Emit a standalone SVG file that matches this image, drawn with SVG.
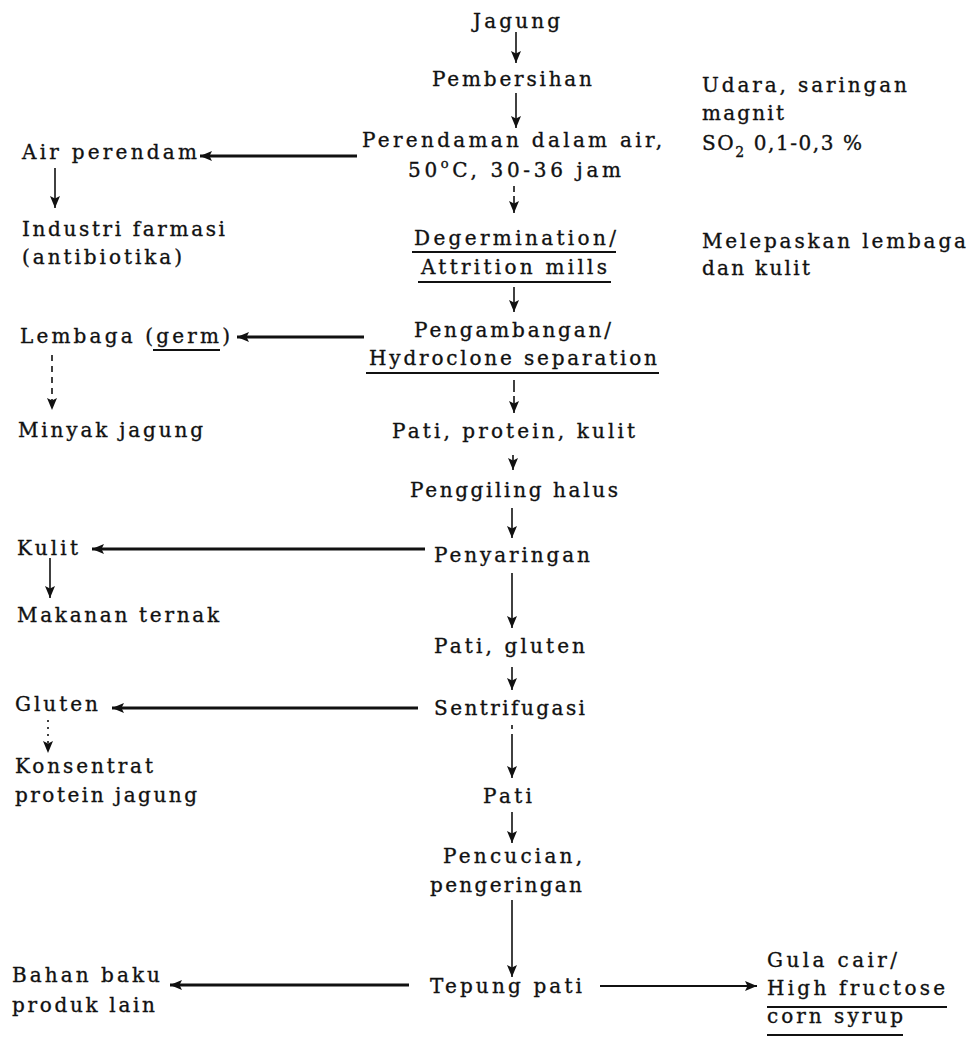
<svg xmlns="http://www.w3.org/2000/svg" width="971" height="1038" viewBox="0 0 971 1038">
<style>
text{font-family:"DejaVu Serif","Liberation Serif",serif;font-size:20px;fill:#111;stroke:#111;stroke-width:0.35}
.v{stroke:#111;stroke-width:1.6;fill:none}
.h{stroke:#111;stroke-width:3;fill:none}
.r{stroke:#111;stroke-width:2;fill:none}
.u{stroke:#111;stroke-width:1.8}
</style>
<defs>
<marker id="ah" markerUnits="userSpaceOnUse" markerWidth="13" markerHeight="11" refX="12" refY="5.5" orient="auto">
<path d="M0,0.5 L12,5.5 L0,10.5 L2.5,5.5 z" fill="#111"/>
</marker>
</defs>
<rect width="971" height="1038" fill="#fff"/>

<g id="connectors">
<line class="v" x1="516" y1="32" x2="516" y2="63" marker-end="url(#ah)"/>
<line class="v" x1="516" y1="93" x2="516" y2="128" marker-end="url(#ah)"/>
<line class="v" x1="514" y1="186" x2="514" y2="192"/>
<line class="v" x1="514" y1="196" x2="514" y2="213" marker-end="url(#ah)"/>
<line class="v" x1="514" y1="287" x2="514" y2="312" marker-end="url(#ah)"/>
<line class="v" x1="514" y1="380" x2="514" y2="392"/>
<line class="v" x1="514" y1="396" x2="514" y2="413" marker-end="url(#ah)"/>
<line class="v" x1="513" y1="455" x2="513" y2="470" marker-end="url(#ah)"/>
<line class="v" x1="512" y1="508" x2="512" y2="538" marker-end="url(#ah)"/>
<line class="v" x1="512" y1="573" x2="512" y2="628" marker-end="url(#ah)"/>
<line class="v" x1="512" y1="667" x2="512" y2="690" marker-end="url(#ah)"/>
<line class="v" x1="512" y1="725" x2="512" y2="729"/>
<line class="v" x1="512" y1="734" x2="512" y2="778" marker-end="url(#ah)"/>
<line class="v" x1="512" y1="812" x2="512" y2="843" marker-end="url(#ah)"/>
<line class="v" x1="512" y1="900" x2="512" y2="977" marker-end="url(#ah)"/>

<line class="h" x1="357" y1="156" x2="200" y2="156" marker-end="url(#ah)"/>
<line class="h" x1="364" y1="337" x2="237" y2="337" marker-end="url(#ah)"/>
<line class="h" x1="425" y1="549" x2="92" y2="549" marker-end="url(#ah)"/>
<line class="h" x1="418" y1="708" x2="112" y2="708" marker-end="url(#ah)"/>
<line class="h" x1="409" y1="985" x2="170" y2="985" marker-end="url(#ah)"/>
<line class="r" x1="600" y1="986" x2="757" y2="986" marker-end="url(#ah)"/>

<line class="v" x1="55" y1="168" x2="55" y2="208" marker-end="url(#ah)"/>
<line class="v" x1="52" y1="355" x2="52" y2="410" stroke-dasharray="6,5" marker-end="url(#ah)"/>
<line class="v" x1="50" y1="558" x2="50" y2="598" marker-end="url(#ah)"/>
<line class="v" x1="48" y1="720" x2="48" y2="753" stroke-dasharray="2,5" marker-end="url(#ah)"/>
</g>

<g id="n-jagung"><text x="473" y="28" textLength="87">Jagung</text></g>
<g id="n-pembersihan"><text x="432" y="86" textLength="160">Pembersihan</text></g>
<g id="n-udara"><text x="702" y="92" textLength="205">Udara, saringan</text><text x="702" y="120" textLength="82">magnit</text></g>
<g id="n-perendaman"><text x="362" y="147" textLength="300">Perendaman dalam air,</text><text x="408" y="177" textLength="213">50<tspan dy="-9" font-size="13">o</tspan><tspan dy="9">C, 30-36 jam</tspan></text></g>
<g id="n-so2"><text x="702" y="150" textLength="160">SO<tspan dy="7" font-size="14">2</tspan><tspan dy="-7"> 0,1-0,3 %</tspan></text></g>
<g id="n-air"><text x="22" y="159" textLength="175">Air perendam</text></g>
<g id="n-industri"><text x="22" y="236" textLength="203">Industri farmasi</text><text x="22" y="264" textLength="160">(antibiotika)</text></g>
<g id="n-degermination"><text x="414" y="245" textLength="202">Degermination/</text><line class="u" x1="412" y1="252" x2="616" y2="252"/><text x="421" y="274" textLength="186">Attrition mills</text><line class="u" x1="418" y1="282" x2="611" y2="282"/></g>
<g id="n-melepaskan"><text x="702" y="248" textLength="264">Melepaskan lembaga</text><text x="702" y="275" textLength="108">dan kulit</text></g>
<g id="n-lembaga"><text x="20" y="343" textLength="210">Lembaga (germ)</text><line class="u" x1="153" y1="350" x2="220" y2="350"/></g>
<g id="n-pengambangan"><text x="414" y="337" textLength="197">Pengambangan/</text><text x="369" y="365" textLength="288">Hydroclone separation</text><line class="u" x1="366" y1="373" x2="659" y2="373"/></g>
<g id="n-minyak"><text x="18" y="437" textLength="185">Minyak jagung</text></g>
<g id="n-pati1"><text x="392" y="438" textLength="243">Pati, protein, kulit</text></g>
<g id="n-penggiling"><text x="410" y="497" textLength="208">Penggiling halus</text></g>
<g id="n-kulit"><text x="17" y="555" textLength="61">Kulit</text></g>
<g id="n-penyaringan"><text x="434" y="562" textLength="156">Penyaringan</text></g>
<g id="n-makanan"><text x="17" y="622" textLength="202">Makanan ternak</text></g>
<g id="n-pati2"><text x="434" y="653" textLength="151">Pati, gluten</text></g>
<g id="n-gluten"><text x="15" y="711" textLength="83">Gluten</text></g>
<g id="n-sentrifugasi"><text x="434" y="715" textLength="151">Sentrifugasi</text></g>
<g id="n-konsentrat"><text x="15" y="773" textLength="138">Konsentrat</text><text x="15" y="802" textLength="182">protein jagung</text></g>
<g id="n-pati3"><text x="483" y="803" textLength="49">Pati</text></g>
<g id="n-pencucian"><text x="443" y="863" textLength="139">Pencucian,</text><text x="430" y="892" textLength="152">pengeringan</text></g>
<g id="n-bahan"><text x="12" y="982" textLength="148">Bahan baku</text><text x="12" y="1012" textLength="143">produk lain</text></g>
<g id="n-tepung"><text x="430" y="993" textLength="152">Tepung pati</text></g>
<g id="n-gula"><text x="767" y="967" textLength="130">Gula cair/</text><text x="767" y="995" textLength="178">High fructose</text><line class="u" x1="767" y1="1007" x2="947" y2="1007"/><text x="767" y="1023" textLength="136">corn syrup</text><line class="u" x1="767" y1="1035" x2="903" y2="1035"/></g>
</svg>
